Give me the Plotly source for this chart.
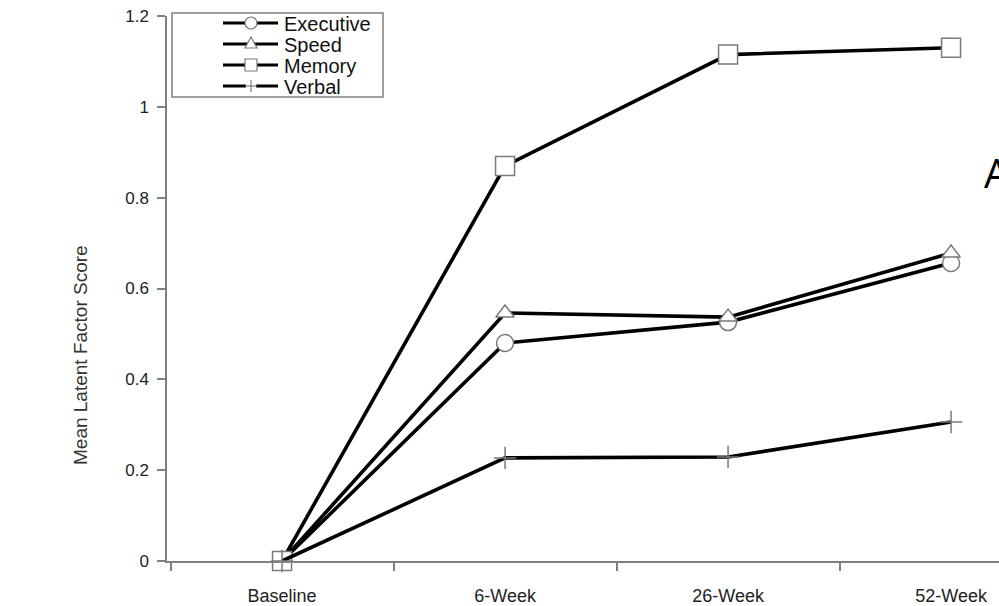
import plotly.graph_objects as go

timepoints = ["Baseline", "6-Week", "26-Week", "52-Week"]
executive = [0.0, 0.48, 0.526, 0.656]
speed = [0.0, 0.546, 0.537, 0.678]
memory = [0.0, 0.87, 1.115, 1.13]
verbal = [0.0, 0.227, 0.229, 0.306]
y_ticks = [0, 0.2, 0.4, 0.6, 0.8, 1, 1.2]
y_tick_text = ["0", "0.2", "0.4", "0.6", "0.8", "1", "1.2"]
legend_names = ["Executive", "Speed", "Memory", "Verbal"]

series = [
    (executive, "circle", 17),
    (speed, "triangle-up", 16),
    (memory, "square", 19),
    (verbal, "cross-thin", 16),
]

W, H = 999, 606
L, T, B = 167, 16, 45
PW = W - L          # 832 px plot width
PH = H - T - B      # 545 px plot height


def px(xp):  # page x -> paper
    return (xp - L) / PW


def py(yp):  # page y -> paper
    return (T + PH - yp) / PH


fig = go.Figure()
for (vals, sym, size), name in zip(series, legend_names):
    fig.add_trace(go.Scatter(
        x=timepoints, y=vals, name=name, mode="lines+markers",
        line=dict(color="black", width=3.6),
        marker=dict(symbol=sym, size=size, color="white",
                    line=dict(color="#7a7a7a", width=1.5)),
        cliponaxis=False, showlegend=False,
    ))

# manual legend (tight spacing like the reference)
shapes = [dict(type="rect", xref="paper", yref="paper",
               x0=px(172), x1=px(383), y0=py(97), y1=py(13),
               line=dict(color="#808080", width=1.5), fillcolor="rgba(0,0,0,0)")]
annotations = []
row_y = [23, 44, 65, 86]
lx0, lx1, mx = 223, 278, 251
gray = "#7a7a7a"
for i, (name, ry) in enumerate(zip(legend_names, row_y)):
    shapes.append(dict(type="line", xref="paper", yref="paper",
                       x0=px(lx0), x1=px(lx1), y0=py(ry), y1=py(ry),
                       line=dict(color="black", width=3)))
    if i == 0:
        shapes.append(dict(type="circle", xref="paper", yref="paper",
                           x0=px(mx - 6), x1=px(mx + 6), y0=py(ry + 6), y1=py(ry - 6),
                           fillcolor="white", line=dict(color=gray, width=1.2)))
    elif i == 1:
        path = "M {} {} L {} {} L {} {} Z".format(
            px(mx - 6), py(ry + 4), px(mx + 6), py(ry + 4), px(mx), py(ry - 7))
        shapes.append(dict(type="path", xref="paper", yref="paper", path=path,
                           fillcolor="white", line=dict(color=gray, width=1.2)))
    elif i == 2:
        shapes.append(dict(type="rect", xref="paper", yref="paper",
                           x0=px(mx - 6), x1=px(mx + 6), y0=py(ry + 6), y1=py(ry - 6),
                           fillcolor="white", line=dict(color=gray, width=1.2)))
    else:
        shapes.append(dict(type="rect", xref="paper", yref="paper",
                           x0=px(mx - 5), x1=px(mx + 5), y0=py(ry + 5), y1=py(ry - 5),
                           fillcolor="white", line=dict(width=0)))
        shapes.append(dict(type="line", xref="paper", yref="paper",
                           x0=px(mx), x1=px(mx), y0=py(ry + 6), y1=py(ry - 6),
                           line=dict(color=gray, width=1.2)))
        shapes.append(dict(type="line", xref="paper", yref="paper",
                           x0=px(mx - 6), x1=px(mx + 6), y0=py(ry), y1=py(ry),
                           line=dict(color=gray, width=1.2)))
    annotations.append(dict(text=name, xref="paper", yref="paper",
                            x=px(282), y=py(ry + 1), xanchor="left", yanchor="middle",
                            showarrow=False,
                            font=dict(size=20, color="#111")))

annotations.append(dict(text="Mean Latent Factor Score", textangle=-90,
                        xref="paper", yref="paper", x=px(80), y=py(355),
                        xanchor="center", yanchor="middle",
                        showarrow=False, font=dict(size=19, color="#333")))
annotations.append(dict(text="A", xref="paper", yref="paper", x=px(982),
                        y=py(172), xanchor="left", yanchor="middle", showarrow=False,
                        font=dict(size=40, color="black", family="Open Sans, sans-serif")))

fig.update_layout(
    width=W, height=H,
    margin=dict(l=L, r=0, t=T, b=B),
    paper_bgcolor="white", plot_bgcolor="white",
    font=dict(family="Liberation Sans, Arial, sans-serif", size=17, color="#222"),
    showlegend=False,
    shapes=shapes,
    annotations=annotations,
)
fig.update_xaxes(
    type="category", range=[-0.516, 3.215],
    showline=True, linecolor="#808080", linewidth=1.5,
    ticks="outside", ticklen=8, tickcolor="#808080", tickwidth=1.5,
    tickson="boundaries", showgrid=False, zeroline=False,
    ticklabelstandoff=18, ticklabeloverflow="allow",
    tickfont=dict(size=18, color="#222"),
)
fig.update_yaxes(
    range=[0, 1.2], tickvals=y_ticks, ticktext=y_tick_text,
    showline=True, linecolor="#808080", linewidth=1.5,
    ticks="outside", ticklen=8, tickcolor="#808080", tickwidth=1.5,
    showgrid=False, zeroline=False,
    ticklabelstandoff=5, ticklabeloverflow="allow",
    tickfont=dict(size=17, color="#222"),
)

fig.write_html("out.html", config={"displayModeBar": False},
               post_script="document.body.style.margin='0';")
